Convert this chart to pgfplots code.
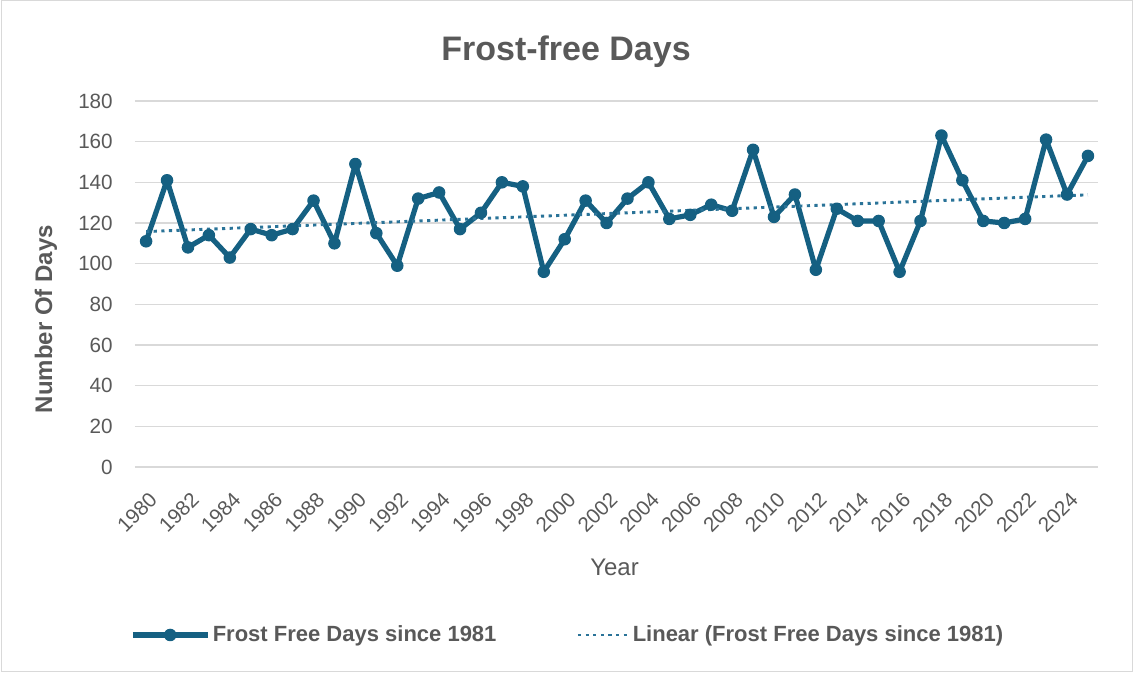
\documentclass[border=0pt]{standalone}
\usepackage{fontspec}
\setmainfont{Liberation Sans}
\usepackage{pgfplots}
\usepackage{pgfplotstable}
\pgfplotsset{compat=1.18}
\definecolor{series}{HTML}{156082}
\definecolor{trend}{HTML}{2A7398}
\definecolor{txt}{HTML}{595959}
\definecolor{gridc}{HTML}{D9D9D9}

\pgfplotstableread{
year days
1980 111
1981 141
1982 108
1983 114
1984 103
1985 117
1986 114
1987 117
1988 131
1989 110
1990 149
1991 115
1992 99
1993 132
1994 135
1995 117
1996 125
1997 140
1998 138
1999 96
2000 112
2001 131
2002 120
2003 132
2004 140
2005 122
2006 124
2007 129
2008 126
2009 156
2010 123
2011 134
2012 97
2013 127
2014 121
2015 121
2016 96
2017 121
2018 163
2019 141
2020 121
2021 120
2022 122
2023 161
2024 134
2025 153
}\datatable

\begin{document}
\begin{tikzpicture}
\useasboundingbox (0,0) rectangle (849.75pt,504.75pt);
\draw[gridc, line width=0.75pt] (0.75pt,0.75pt) rectangle (849pt,504pt);
\begin{axis}[
  at={(101.25pt,154.5pt)}, anchor=south west,
  scale only axis, width=722.25pt, height=274.5pt,
  xmin=1979.47, xmax=2025.48, ymin=0, ymax=180,
  ytick={0,20,...,180},
  xtick={1980,1982,...,2024},
  ymajorgrids, major grid style={gridc, line width=1pt},
  axis line style={draw=none},
  major tick length=0pt,
  clip=false,
  tick label style={font=\fontsize{15.5}{18}\selectfont, text=txt},
  /pgf/number format/assume math mode=true,
  /pgf/number format/1000 sep={},
  yticklabel style={anchor=east, inner sep=0pt, xshift=-16.5pt},
  xticklabel style={yshift=-17.5pt, xshift=1.5pt, rotate=45, anchor=north east, inner sep=0pt},
  title={Frost-free Days},
  title style={at={(axis description cs:0.4476,1.112)}, anchor=center, font=\bfseries\fontsize{25.5}{30}\selectfont, text=txt},
  ylabel={Number Of Days},
  ylabel style={at={(axis description cs:-0.0925,0.404)}, anchor=center, font=\bfseries\fontsize{18}{22}\selectfont, text=txt},
  xlabel={Year},
  xlabel style={at={(axis description cs:0.498,-0.273)}, anchor=center, font=\fontsize{18}{22}\selectfont, text=txt},
  legend columns=2,
  legend cell align=left,
  legend style={at={(axis description cs:-0.0052,-0.459)}, anchor=west, draw=none, fill=none, inner sep=0pt,
    font=\bfseries\fontsize{16.5}{20}\selectfont, text=txt,
    /tikz/every even column/.append style={column sep=58pt}},
]
\addplot[series, line width=3.9pt, line join=round, mark=*, mark size=4.3pt,
  mark options={solid, fill=series, line width=0.8pt},
  legend image code/.code={\draw[mark repeat=2,mark phase=2] plot coordinates {(0pt,0pt) (28pt,0pt) (56pt,0pt)};}]
  table[x=year,y=days] {\datatable};
\addlegendentry{Frost Free Days since 1981}
\addplot[trend, line width=2.2pt, dash pattern=on 2.4pt off 3.3pt, mark=none,
  legend image code/.code={\draw (0pt,0pt) -- (38pt,0pt);}]
  table[x=year, y={create col/linear regression={y=days}}] {\datatable};
\addlegendentry{Linear (Frost Free Days since 1981)}
\end{axis}
\end{tikzpicture}
\end{document}
